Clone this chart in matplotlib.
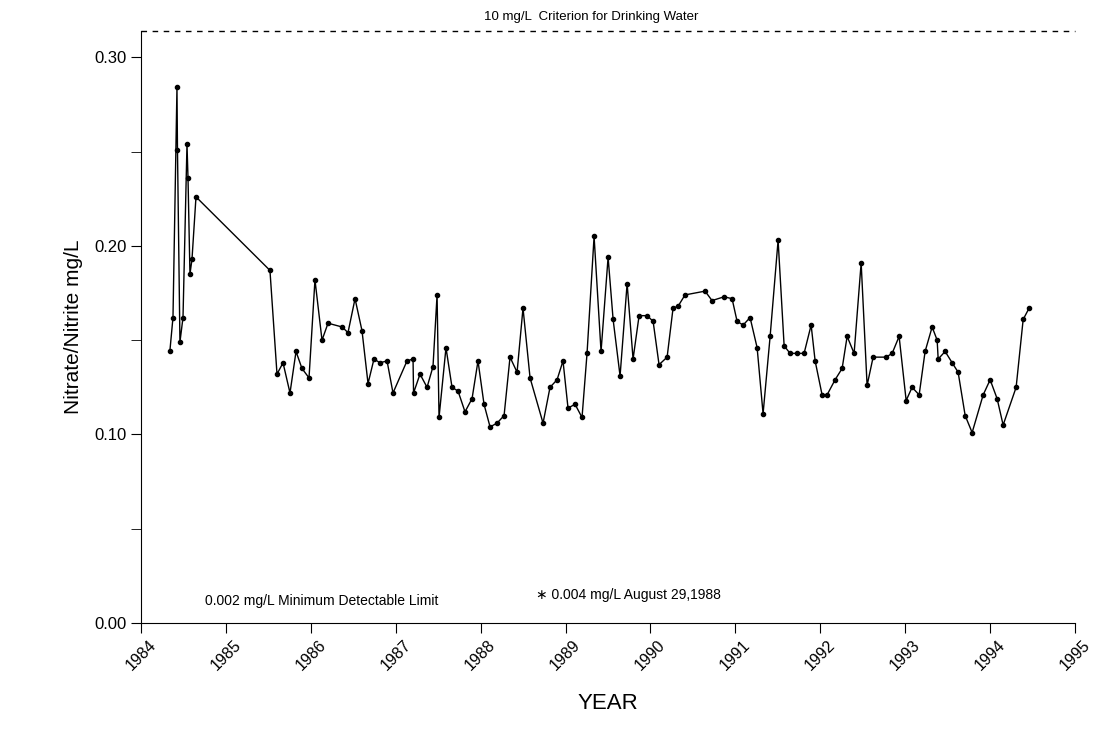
import matplotlib
matplotlib.use("Agg")
import matplotlib.pyplot as plt
import numpy as np

plt.rcParams['font.family'] = ['Liberation Sans', 'DejaVu Sans']

years = [1984.34,1984.377,1984.424,1984.43,1984.459,1984.495,1984.542,1984.554,1984.577,1984.601,1984.648,
 1985.519,1985.602,1985.673,1985.755,1985.826,1985.896,1985.979,1986.049,1986.132,1986.203,1986.368,1986.438,
 1986.521,1986.603,1986.674,1986.744,1986.815,1986.898,1986.968,1987.133,1987.204,1987.21,1987.286,1987.369,
 1987.439,1987.487,1987.51,1987.592,1987.663,1987.734,1987.816,1987.899,1987.969,1988.04,1988.111,1988.193,
 1988.276,1988.346,1988.429,1988.499,1988.582,1988.735,1988.817,1988.9,1988.97,1989.029,1989.112,1989.194,
 1989.253,1989.336,1989.418,1989.501,1989.56,1989.642,1989.725,1989.795,1989.866,1989.96,1990.031,1990.101,
 1990.196,1990.266,1990.325,1990.407,1990.643,1990.725,1990.867,1990.961,1991.02,1991.091,1991.173,1991.256,
 1991.326,1991.409,1991.503,1991.574,1991.644,1991.727,1991.809,1991.892,1991.939,1992.021,1992.08,1992.174,
 1992.257,1992.316,1992.398,1992.481,1992.551,1992.622,1992.775,1992.846,1992.928,1993.011,1993.081,1993.164,
 1993.234,1993.317,1993.376,1993.388,1993.47,1993.553,1993.623,1993.706,1993.788,1993.918,1994.0,1994.082,
 1994.153,1994.306,1994.389,1994.459]
values = [0.144,0.162,0.284,0.251,0.149,0.162,0.254,0.236,0.185,0.193,0.226,
 0.187,0.132,0.138,0.122,0.144,0.135,0.130,0.182,0.150,0.159,0.157,0.154,
 0.172,0.155,0.127,0.140,0.138,0.139,0.122,0.139,0.140,0.122,0.132,0.125,
 0.136,0.174,0.109,0.146,0.125,0.123,0.112,0.119,0.139,0.116,0.104,0.106,
 0.110,0.141,0.133,0.167,0.130,0.106,0.125,0.129,0.139,0.114,0.116,0.109,
 0.143,0.205,0.144,0.194,0.161,0.131,0.180,0.140,0.163,0.163,0.160,0.137,
 0.141,0.167,0.168,0.174,0.176,0.171,0.173,0.172,0.160,0.158,0.162,0.146,
 0.111,0.152,0.203,0.147,0.143,0.143,0.143,0.158,0.139,0.121,0.121,0.129,
 0.135,0.152,0.143,0.191,0.126,0.141,0.141,0.143,0.152,0.118,0.125,0.121,
 0.144,0.157,0.150,0.140,0.144,0.138,0.133,0.110,0.101,0.121,0.129,0.119,
 0.105,0.125,0.161,0.167]
xticks = list(range(1984, 1996))

fig = plt.figure(figsize=(10.97, 7.36), dpi=100)
ax = fig.add_axes([0.1285, 0.1535, 0.8515, 0.8045])
ax.plot(years, values, color='black', lw=1.0, marker='o', ms=3)
ax.set_xlim(1984, 1995)
ax.set_ylim(0, 0.314)
ax.axhline(0.314, color='black', lw=1, ls=(0, (4, 4)), clip_on=False)
ax.text(1989.3, 0.318, '10 mg/L  Criterion for Drinking Water', ha='center', va='bottom', fontsize=9.5)
ax.text(1984.75, 0.008, '0.002 mg/L Minimum Detectable Limit', ha='left', va='bottom', fontsize=10)
ax.text(1988.65, 0.011, '\u2217 0.004 mg/L August 29,1988', ha='left', va='bottom', fontsize=10)
ax.set_xticks(xticks)
ax.set_xticklabels([str(t) for t in xticks], rotation=45, fontsize=11.5)
ax.set_yticks([0.0, 0.1, 0.2, 0.3])
ax.set_yticklabels(['0.00', '0.10', '0.20', '0.30'], fontsize=12)
ax.set_yticks([0.05, 0.15, 0.25], minor=True)
ax.tick_params(which='minor', length=7)
ax.tick_params(which='major', length=7)
ax.spines['top'].set_visible(False)
ax.spines['right'].set_visible(False)
ax.set_xlabel('YEAR', fontsize=16, labelpad=14)
ax.set_ylabel('Nitrate/Nitrite mg/L', fontsize=15, labelpad=8)
fig.savefig('out.png', dpi=100)
